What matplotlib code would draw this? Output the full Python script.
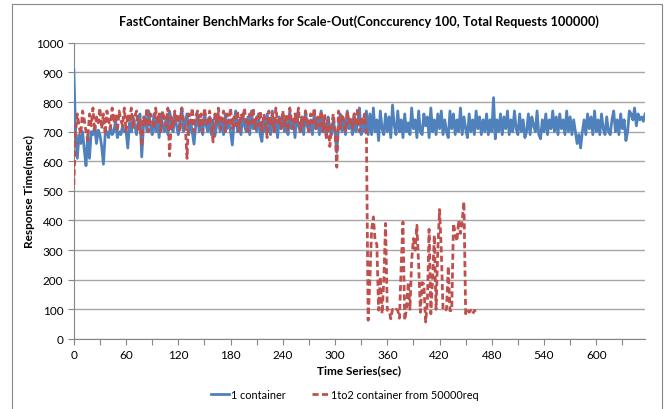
import numpy as np
import matplotlib
matplotlib.use("Agg")
import matplotlib.pyplot as plt
from matplotlib.patches import Rectangle

plt.rcParams['font.family'] = ['Lato', 'DejaVu Sans']

# response time samples, one every 2 seconds
step = 2
one_container = [
    910, 700, 610, 690, 660, 700, 640, 585, 690, 610,
    700, 690, 720, 660, 705, 690, 650, 590, 690, 700,
    680, 720, 690, 700, 740, 680, 700, 690, 720, 700,
    700, 645, 730, 700, 752, 720, 690, 740, 760, 615,
    720, 750, 700, 770, 720, 690, 760, 700, 740, 680,
    760, 720, 700, 750, 690, 770, 730, 700, 760, 720,
    690, 740, 780, 700, 730, 760, 690, 740, 700, 658,
    720, 760, 700, 740, 690, 770, 720, 700, 750, 690,
    740, 685, 720, 760, 700, 740, 690, 760, 710, 740,
    700, 655, 730, 770, 700, 740, 690, 760, 720, 700,
    750, 690, 770, 710, 740, 700, 760, 690, 667, 740,
    700, 760, 720, 690, 770, 700, 740, 680, 750, 710,
    760, 700, 730, 690, 770, 710, 740, 680, 760, 720,
    700, 750, 690, 770, 720, 700, 740, 690, 760, 710,
    740, 690, 770, 700, 730, 680, 750, 710, 690, 740,
    700, 630, 720, 760, 700, 740, 690, 770, 710, 740,
    690, 760, 700, 730, 780, 690, 740, 700, 770, 690,
    760, 690, 780, 700, 740, 670, 770, 710, 690, 760,
    700, 750, 680, 790, 720, 690, 770, 700, 740, 680,
    760, 700, 730, 690, 780, 710, 740, 680, 770, 700,
    690, 760, 720, 750, 680, 780, 700, 740, 690, 760,
    710, 770, 690, 740, 700, 680, 770, 710, 760, 690,
    740, 700, 780, 690, 750, 710, 680, 760, 700, 740,
    690, 770, 710, 750, 690, 740, 700, 760, 690, 740,
    700, 815, 676, 740, 700, 760, 690, 750, 710, 770,
    690, 740, 700, 770, 710, 690, 760, 700, 740, 680,
    700, 760, 690, 750, 720, 700, 770, 690, 676, 740,
    700, 760, 690, 740, 710, 770, 700, 750, 690, 760,
    710, 740, 690, 770, 700, 750, 690, 740, 700, 660,
    690, 645, 700, 740, 690, 760, 710, 750, 690, 770,
    700, 740, 690, 760, 710, 690, 750, 700, 690, 740,
    770, 700, 740, 690, 760, 710, 740, 670, 700, 770,
    760, 740, 780, 720, 760, 740, 750, 735, 760,
]
scale_out = [
    520, 700, 760, 720, 690, 770, 740, 700, 670, 760,
    720, 780, 700, 750, 730, 780, 710, 760, 690, 770,
    740, 710, 780, 730, 760, 700, 770, 740, 720, 780,
    700, 760, 730, 780, 710, 750, 770, 700, 740, 650,
    750, 720, 780, 700, 760, 740, 710, 780, 730, 760,
    700, 770, 740, 720, 780, 618, 750, 710, 770, 730,
    760, 700, 780, 740, 720, 610, 760, 730, 780, 700,
    750, 770, 720, 760, 700, 780, 740, 720, 770, 710,
    665, 760, 730, 780, 710, 750, 770, 700, 760, 730,
    780, 710, 750, 720, 770, 700, 760, 740, 780, 720,
    700, 760, 730, 780, 710, 750, 720, 770, 700, 760,
    740, 680, 770, 720, 760, 700, 780, 730, 750, 710,
    770, 720, 760, 700, 780, 740, 710, 760, 730, 780,
    700, 750, 720, 770, 740, 700, 760, 730, 780, 710,
    750, 720, 770, 700, 760, 680, 740, 650, 720, 760,
    700, 580, 770, 710, 760, 740, 700, 770, 730, 750,
    710, 760, 720, 780, 700, 750, 730, 760, 700,
    63, 200, 370, 412, 330, 320, 97, 210, 85, 200,
    390, 97, 97, 68, 100, 95, 100, 97, 70, 250,
    395, 63, 100, 191, 100, 266, 339, 300, 384, 250,
    90, 190, 185, 57, 120, 370, 85, 200, 350, 100,
    300, 437, 300, 97, 95, 100, 245, 95, 97, 390,
    356, 330, 400, 356, 400, 463, 85, 97, 90, 97,
    85, 95, 97,
]
t1 = np.arange(len(one_container)) * step
t2 = np.arange(len(scale_out)) * step

blue = '#4F81BD'
red = '#C0504D'
grid = '#A6A6A6'

fig = plt.figure(figsize=(6.65, 4.1), dpi=100)
ax = fig.add_axes([0.111, 0.171, 0.859, 0.722])

ax.plot(t1, one_container, color=blue, lw=2, label='1 container', zorder=3)
ax.plot(t2, scale_out, color=red, lw=2, dashes=(2.2, 1.2),
        label='1to2 container from 50000req', zorder=4)

ax.set_xlim(0, 656)
ax.set_ylim(0, 1000)
ax.set_yticks(np.arange(0, 1001, 100))
ax.set_xticks(np.arange(0, 631, 30))
ax.set_xticklabels([str(v) if v % 60 == 0 else '' for v in range(0, 631, 30)])
ax.yaxis.grid(True, color=grid, lw=1)
ax.set_axisbelow(True)
for s in ['top', 'right']:
    ax.spines[s].set_visible(False)
for s in ['left', 'bottom']:
    ax.spines[s].set_color('#868686')
ax.tick_params(axis='both', colors='#868686', labelcolor='black', labelsize=8.5,
               length=4, width=0.8)

ax.set_title('FastContainer BenchMarks for Scale-Out(Conccurency 100, Total Requests 100000)',
             fontsize=9.2, fontweight='bold', pad=13)
ax.set_xlabel('Time Series(sec)', fontsize=8.5, fontweight='bold', labelpad=3)
ax.set_ylabel('Response Time(msec)', fontsize=8.5, fontweight='bold', labelpad=1)

ax.legend(loc='upper center', bbox_to_anchor=(0.475, -0.135), ncol=2, frameon=False,
          fontsize=7.8, handlelength=1.6, handletextpad=0.2, columnspacing=2.4)

fig.patches.append(Rectangle((12 / 665, -0.02), 650 / 665, 1.008, transform=fig.transFigure,
                             fill=False, edgecolor='#868686', lw=0.8))

fig.savefig('out.png', dpi=100)
